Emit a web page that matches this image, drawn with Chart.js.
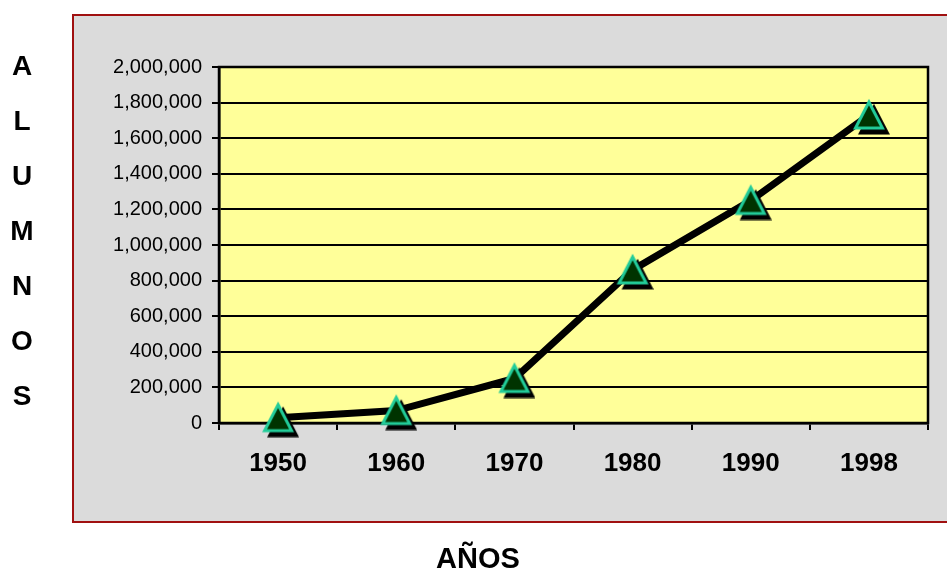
<!DOCTYPE html>
<html>
<head>
<meta charset="utf-8">
<script src="https://cdn.jsdelivr.net/npm/chart.js@4/dist/chart.umd.min.js"></script>
<style>
  html, body { margin: 0; padding: 0; background: #fff; }
  canvas { display: block; }
</style>
</head>
<body>
<canvas id="alumnosChart" width="947" height="573"></canvas>
<script>
const years = ["1950", "1960", "1970", "1980", "1990", "1998"];
const alumnos = [30000, 70000, 250000, 860000, 1250000, 1730000];
const yMin = 0;
const yMax = 2000000;
const yStep = 200000;
const yTitle = ["A", "L", "U", "M", "N", "O", "S"];
const xTitle = "AÑOS";

const FONT = "'Liberation Sans', Arial, sans-serif";

// Triangle marker with a drop shadow, centred on its bounding box
function makeMarker() {
  const c = document.createElement("canvas");
  c.width = 42;
  c.height = 40;
  const g = c.getContext("2d");
  const tri = (dx, dy) => {
    g.beginPath();
    g.moveTo(21 + dx, 7 + dy);
    g.lineTo(34.5 + dx, 33 + dy);
    g.lineTo(7.5 + dx, 33 + dy);
    g.closePath();
  };
  g.lineJoin = "miter";
  tri(5, 5);
  g.fillStyle = "#000";
  g.fill();
  g.lineWidth = 3;
  g.strokeStyle = "#000";
  g.stroke();
  tri(0, 0);
  g.fillStyle = "#003300";
  g.fill();
  g.lineWidth = 3;
  g.strokeStyle = "#22cc99";
  g.stroke();
  return c;
}

// Gray panel, yellow plot area and frame
const backdrop = {
  id: "backdrop",
  beforeDraw(chart) {
    const { ctx, chartArea: a } = chart;
    ctx.save();
    ctx.fillStyle = "#fff";
    ctx.fillRect(0, 0, chart.width, chart.height);
    ctx.fillStyle = "#dbdbdb";
    ctx.fillRect(73, 15, 900, 507);
    ctx.strokeStyle = "#a01010";
    ctx.lineWidth = 2;
    ctx.strokeRect(73, 15, 900, 507);
    ctx.fillStyle = "#ffff99";
    ctx.fillRect(a.left, a.top, a.right - a.left, a.bottom - a.top);
    ctx.restore();
  },
  beforeDatasetsDraw(chart) {
    const { ctx, chartArea: a } = chart;
    ctx.save();
    ctx.strokeStyle = "#000";
    ctx.lineWidth = 2.5;
    ctx.strokeRect(a.left, a.top, a.right - a.left, a.bottom - a.top);
    ctx.restore();
  },
  afterDraw(chart) {
    const ctx = chart.ctx;
    ctx.save();
    ctx.fillStyle = "#000";
    ctx.textAlign = "center";
    ctx.textBaseline = "middle";
    ctx.font = "bold 28px " + FONT;
    yTitle.forEach((ch, i) => ctx.fillText(ch, 22, 67 + i * 55));
    ctx.font = "bold 29px " + FONT;
    ctx.fillText(xTitle, 478, 560);
    ctx.restore();
  }
};

new Chart(document.getElementById("alumnosChart"), {
  type: "line",
  data: {
    labels: years,
    datasets: [{
      data: alumnos,
      borderColor: "#000",
      borderWidth: 7,
      tension: 0,
      clip: false,
      pointStyle: makeMarker(),
      pointRadius: 15,
      pointHoverRadius: 15
    }]
  },
  options: {
    responsive: false,
    devicePixelRatio: 1,
    animation: false,
    events: [],
    layout: {
      autoPadding: false,
      padding: { left: 100, top: 67, right: 19, bottom: 0 }
    },
    plugins: {
      legend: { display: false },
      tooltip: { enabled: false }
    },
    scales: {
      x: {
        offset: true,
        grid: {
          offset: true,
          drawOnChartArea: false,
          drawTicks: true,
          tickLength: 7,
          color: "#000",
          lineWidth: 2
        },
        border: { color: "#000", width: 2.5 },
        ticks: {
          color: "#000",
          padding: 18,
          font: { family: FONT, size: 26, weight: "bold" }
        },
        afterFit(scale) { scale.height = 150; }
      },
      y: {
        min: yMin,
        max: yMax,
        grid: {
          color: "#000",
          lineWidth: 2,
          drawTicks: true,
          tickLength: 7
        },
        border: { color: "#000", width: 2.5 },
        ticks: {
          stepSize: yStep,
          color: "#000",
          padding: 10,
          font: { family: FONT, size: 20 },
          callback: (v) => v.toLocaleString("en-US")
        },
        afterFit(scale) { scale.width = 119; }
      }
    }
  },
  plugins: [backdrop]
});
</script>
</body>
</html>
